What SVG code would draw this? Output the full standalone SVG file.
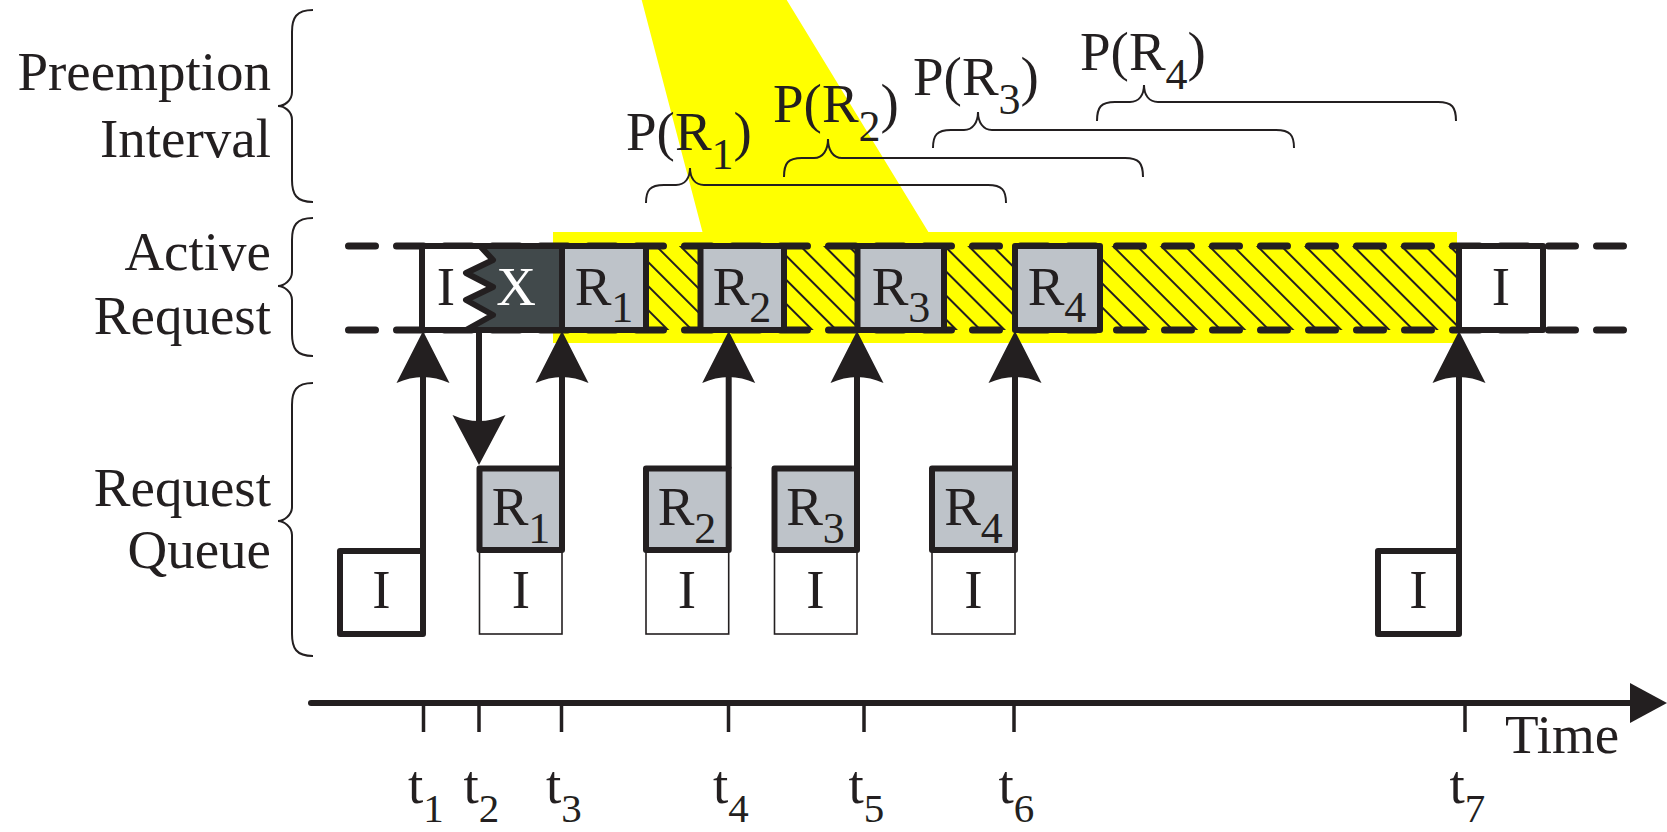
<svg xmlns="http://www.w3.org/2000/svg" width="1667" height="832" viewBox="0 0 1667 832">
  <style>
    .txt { font-family: "Liberation Serif", "Times New Roman", serif; font-size: 55px; fill: #231F20; }
    .sub { font-size: 44px; }
    .tsub { font-size: 41px; }
    .white { fill: #FFFFFF; }
    .box { stroke: #231F20; stroke-width: 6; stroke-linejoin: round; }
    .req { fill: #BEC3C9; }
    .idle { fill: #FFFFFF; }
    .thin { fill: #FFFFFF; stroke: #231F20; stroke-width: 1.6; }
    .brace { fill: none; stroke: #231F20; stroke-width: 2; }
    .conn { fill: none; stroke: #231F20; stroke-width: 6; }
    .head { fill: #231F20; }
    .dash { fill: none; stroke: #231F20; stroke-width: 7; stroke-linecap: round; stroke-dasharray: 27 21; }
    .tick { stroke: #231F20; stroke-width: 3.5; }
  </style>
  <defs>
    <pattern id="hatch" patternUnits="userSpaceOnUse" width="17" height="40" patternTransform="rotate(-45)">
      <line x1="1" y1="-5" x2="1" y2="45" stroke="#231F20" stroke-width="2"/>
    </pattern>
    <path id="headUp" d="M0,0 L26.5,52 Q0,40 -26.5,52 Z"/>
    <path id="headDown" d="M0,0 L-26.5,-50 Q0,-38 26.5,-50 Z"/>
  </defs>

  <!-- highlighted preemption window -->
  <g id="highlight">
    <path d="M641.7,0 L786.7,0 L928.4,232 L1457,232 L1457,343 L553,343 L553,232 L702.5,232 Z" fill="#FFFF00"/>
    <rect x="646" y="246" width="813" height="84" fill="url(#hatch)"/>
  </g>

  <!-- active request rails -->
  <g id="rails">
    <line class="dash" x1="348.5" y1="246" x2="1628" y2="246"/>
    <line class="dash" x1="348.5" y1="330" x2="1628" y2="330"/>
  </g>

  <!-- active request row -->
  <g id="active-idle-preempted">
    <rect x="422" y="246" width="140" height="84" fill="#FFFFFF"/>
    <polygon points="480,246 493,260 466,273 493,287 466,300 493,315 466,330 562,330 562,246" fill="#41494B"/>
    <rect class="box" x="422" y="246" width="140" height="84" fill="none"/>
    <polyline points="480,246 493,260 466,273 493,287 466,300 493,315 466,330" fill="none" stroke="#231F20" stroke-width="6" stroke-linejoin="round"/>
    <text class="txt" x="446" y="305" text-anchor="middle">I</text>
    <text class="txt white" x="516" y="305" text-anchor="middle">X</text>
  </g>
  <g id="active-r1">
    <rect class="box req" x="562" y="246" width="84" height="84"/>
    <text class="txt" x="604" y="305" text-anchor="middle">R<tspan class="sub" dy="17">1</tspan></text>
  </g>
  <g id="active-r2">
    <rect class="box req" x="700.5" y="246" width="83.5" height="84"/>
    <text class="txt" x="742" y="305" text-anchor="middle">R<tspan class="sub" dy="17">2</tspan></text>
  </g>
  <g id="active-r3">
    <rect class="box req" x="857.5" y="246" width="86.5" height="84"/>
    <text class="txt" x="901" y="305" text-anchor="middle">R<tspan class="sub" dy="17">3</tspan></text>
  </g>
  <g id="active-r4">
    <rect class="box req" x="1015" y="246" width="85" height="84"/>
    <text class="txt" x="1057" y="305" text-anchor="middle">R<tspan class="sub" dy="17">4</tspan></text>
  </g>
  <g id="active-idle-end">
    <rect class="box idle" x="1459" y="246" width="84" height="84"/>
    <text class="txt" x="1501" y="305" text-anchor="middle">I</text>
  </g>

  <!-- request queue -->
  <g id="queue-t1">
    <rect class="box idle" x="340" y="551" width="83" height="83"/>
    <text class="txt" x="381.5" y="608" text-anchor="middle">I</text>
  </g>
  <g id="queue-r1">
    <rect class="thin" x="479.5" y="550" width="82.5" height="84"/>
    <text class="txt" x="521" y="608" text-anchor="middle">I</text>
    <rect class="box req" x="479.5" y="468.5" width="82.5" height="81.5"/>
    <text class="txt" x="521" y="525" text-anchor="middle">R<tspan class="sub" dy="18">1</tspan></text>
  </g>
  <g id="queue-r2">
    <rect class="thin" x="646" y="550" width="82.7" height="84"/>
    <text class="txt" x="687" y="608" text-anchor="middle">I</text>
    <rect class="box req" x="646" y="468.5" width="82.7" height="81.5"/>
    <text class="txt" x="687" y="525" text-anchor="middle">R<tspan class="sub" dy="18">2</tspan></text>
  </g>
  <g id="queue-r3">
    <rect class="thin" x="774.5" y="550" width="82.5" height="84"/>
    <text class="txt" x="815.5" y="608" text-anchor="middle">I</text>
    <rect class="box req" x="774.5" y="468.5" width="82.5" height="81.5"/>
    <text class="txt" x="815.5" y="525" text-anchor="middle">R<tspan class="sub" dy="18">3</tspan></text>
  </g>
  <g id="queue-r4">
    <rect class="thin" x="932" y="550" width="83" height="84"/>
    <text class="txt" x="973.5" y="608" text-anchor="middle">I</text>
    <rect class="box req" x="932" y="468.5" width="83" height="81.5"/>
    <text class="txt" x="973.5" y="525" text-anchor="middle">R<tspan class="sub" dy="18">4</tspan></text>
  </g>
  <g id="queue-t7">
    <rect class="box idle" x="1378" y="551" width="81" height="83"/>
    <text class="txt" x="1418.5" y="608" text-anchor="middle">I</text>
  </g>

  <!-- transfers between queue and active slot -->
  <g id="connectors">
    <line class="conn" x1="423" y1="551" x2="423" y2="375"/>
    <use href="#headUp" class="head" x="423" y="331"/>
    <line class="conn" x1="479" y1="330" x2="479" y2="425"/>
    <use href="#headDown" class="head" x="479" y="465"/>
    <line class="conn" x1="562" y1="468.5" x2="562" y2="375"/>
    <use href="#headUp" class="head" x="562" y="331"/>
    <line class="conn" x1="728.7" y1="468.5" x2="728.7" y2="375"/>
    <use href="#headUp" class="head" x="728.7" y="331"/>
    <line class="conn" x1="857" y1="468.5" x2="857" y2="375"/>
    <use href="#headUp" class="head" x="857" y="331"/>
    <line class="conn" x1="1015" y1="468.5" x2="1015" y2="375"/>
    <use href="#headUp" class="head" x="1015" y="331"/>
    <line class="conn" x1="1459" y1="551" x2="1459" y2="375"/>
    <use href="#headUp" class="head" x="1459" y="331"/>
  </g>

  <!-- row labels with braces -->
  <g id="label-preemption">
    <text class="txt" x="271" y="90" text-anchor="end">Preemption</text>
    <text class="txt" x="271" y="157" text-anchor="end">Interval</text>
    <path class="brace" d="M313,10 C296,10 292,18 292,32 L292,92 C292,101 284,106 278,106 C284,106 292,111 292,120 L292,180 C292,194 296,202 313,202"/>
  </g>
  <g id="label-active">
    <text class="txt" x="271" y="270" text-anchor="end">Active</text>
    <text class="txt" x="271" y="334" text-anchor="end">Request</text>
    <path class="brace" d="M313,218 C296,218 292,226 292,240 L292,272 C292,280 284,286 278,286 C284,286 292,292 292,300 L292,334 C292,348 296,356 313,356"/>
  </g>
  <g id="label-queue">
    <text class="txt" x="271" y="506" text-anchor="end">Request</text>
    <text class="txt" x="271" y="568" text-anchor="end">Queue</text>
    <path class="brace" d="M313,383 C296,383 292,391 292,405 L292,507 C292,515 284,521 278,521 C284,521 292,527 292,535 L292,634 C292,648 296,656 313,656"/>
  </g>

  <!-- preemption intervals -->
  <g id="interval-r1">
    <text class="txt" x="626" y="150">P(R<tspan class="sub" dy="19">1</tspan><tspan dy="-19">)</tspan></text>
    <path class="brace" d="M646,203 C646,190 650,185 664,185 L676,185 C685,185 690,178 690,168 C690,178 695,185 704,185 L988,185 C1002,185 1006,190 1006,203"/>
  </g>
  <g id="interval-r2">
    <text class="txt" x="773" y="122">P(R<tspan class="sub" dy="19">2</tspan><tspan dy="-19">)</tspan></text>
    <path class="brace" d="M784,177 C784,163 788,158 802,158 L814,158 C823,158 828,150 828,139 C828,150 833,158 842,158 L1125,158 C1139,158 1143,163 1143,177"/>
  </g>
  <g id="interval-r3">
    <text class="txt" x="913" y="95">P(R<tspan class="sub" dy="19">3</tspan><tspan dy="-19">)</tspan></text>
    <path class="brace" d="M933,148 C933,135 937,130 951,130 L964,130 C973,130 978,122 978,112 C978,122 983,130 992,130 L1276,130 C1290,130 1294,135 1294,148"/>
  </g>
  <g id="interval-r4">
    <text class="txt" x="1080" y="70">P(R<tspan class="sub" dy="19">4</tspan><tspan dy="-19">)</tspan></text>
    <path class="brace" d="M1097,121 C1097,107 1101,102 1115,102 L1130,102 C1139,102 1144,95 1144,85 C1144,95 1149,102 1158,102 L1438,102 C1452,102 1456,107 1456,121"/>
  </g>

  <!-- time axis -->
  <g id="time-axis">
    <line x1="311" y1="703" x2="1636" y2="703" stroke="#231F20" stroke-width="6" stroke-linecap="round"/>
    <polygon points="1630,683 1667,703 1630,723" fill="#231F20"/>
    <line class="tick" x1="423.5" y1="703" x2="423.5" y2="732"/>
    <line class="tick" x1="479" y1="703" x2="479" y2="732"/>
    <line class="tick" x1="561.5" y1="703" x2="561.5" y2="732"/>
    <line class="tick" x1="728.5" y1="703" x2="728.5" y2="732"/>
    <line class="tick" x1="864" y1="703" x2="864" y2="732"/>
    <line class="tick" x1="1014" y1="703" x2="1014" y2="732"/>
    <line class="tick" x1="1465" y1="703" x2="1465" y2="732"/>
    <text class="txt" x="1505" y="753">Time</text>
    <text class="txt" x="408" y="803">t<tspan class="tsub" dy="19">1</tspan></text>
    <text class="txt" x="463.5" y="803">t<tspan class="tsub" dy="19">2</tspan></text>
    <text class="txt" x="546" y="803">t<tspan class="tsub" dy="19">3</tspan></text>
    <text class="txt" x="713" y="803">t<tspan class="tsub" dy="19">4</tspan></text>
    <text class="txt" x="848.5" y="803">t<tspan class="tsub" dy="19">5</tspan></text>
    <text class="txt" x="998.5" y="803">t<tspan class="tsub" dy="19">6</tspan></text>
    <text class="txt" x="1449.5" y="803">t<tspan class="tsub" dy="19">7</tspan></text>
  </g>
</svg>
